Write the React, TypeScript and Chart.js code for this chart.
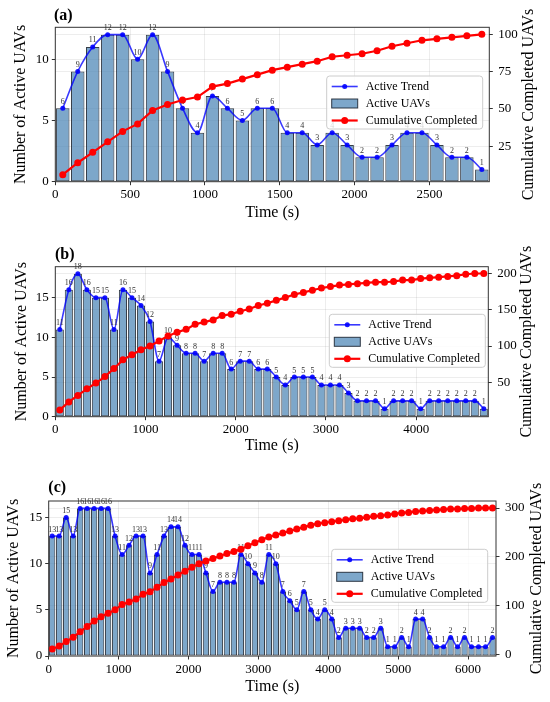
import React, { useEffect, useRef } from "react";
import { Chart, registerables } from "chart.js";

Chart.register(...registerables);

const FONT = "'Liberation Serif', 'Times New Roman', Times, serif";

// ---------- Panel (a) ----------
const timeA = [50, 150, 250, 350, 450, 550, 650, 750, 850, 950, 1050, 1150, 1250, 1350, 1450, 1550, 1650, 1750, 1850, 1950, 2050, 2150, 2250, 2350, 2450, 2550, 2650, 2750, 2850];
const activeA = [6, 9, 11, 12, 12, 10, 12, 9, 6, 4, 7, 6, 5, 6, 6, 4, 4, 3, 4, 3, 2, 2, 3, 4, 4, 3, 2, 2, 1];
const cumulativeA = [6, 14, 21, 28, 35, 40, 49, 53, 56, 58, 65, 67, 70, 73, 76, 78, 80, 82, 85, 86, 87, 89, 92, 94, 96, 97, 98, 99, 100];
const xTicksA = [0, 500, 1000, 1500, 2000, 2500];
const leftTicksA = [0, 5, 10];
const rightTicksA = [25, 50, 75, 100];
const xLimitA = 2900;

// ---------- Panel (b) ----------
const timeB = [50, 150, 250, 350, 450, 550, 650, 750, 850, 950, 1050, 1150, 1250, 1350, 1450, 1550, 1650, 1750, 1850, 1950, 2050, 2150, 2250, 2350, 2450, 2550, 2650, 2750, 2850, 2950, 3050, 3150, 3250, 3350, 3450, 3550, 3650, 3750, 3850, 3950, 4050, 4150, 4250, 4350, 4450, 4550, 4650, 4750];
const activeB = [11, 16, 18, 16, 15, 15, 11, 16, 15, 14, 12, 7, 10, 9, 8, 8, 7, 8, 8, 6, 7, 7, 6, 6, 5, 4, 5, 5, 5, 4, 4, 4, 3, 2, 2, 2, 1, 2, 2, 2, 1, 2, 2, 2, 2, 2, 2, 1];
const cumulativeB = [12, 23, 32, 41, 49, 58, 69, 81, 88, 95, 100, 107, 114, 119, 123, 130, 133, 136, 142, 144, 148, 151, 156, 159, 163, 167, 171, 174, 177, 180, 182, 184, 185, 186, 187, 188, 188, 189, 191, 191, 193, 194, 195, 196, 197, 199, 200, 200];
const xTicksB = [0, 1000, 2000, 3000, 4000];
const leftTicksB = [0, 5, 10, 15];
const rightTicksB = [50, 100, 150, 200];
const xLimitB = 4800;

// ---------- Panel (c) ----------
const timeC = [50, 150, 250, 350, 450, 550, 650, 750, 850, 950, 1050, 1150, 1250, 1350, 1450, 1550, 1650, 1750, 1850, 1950, 2050, 2150, 2250, 2350, 2450, 2550, 2650, 2750, 2850, 2950, 3050, 3150, 3250, 3350, 3450, 3550, 3650, 3750, 3850, 3950, 4050, 4150, 4250, 4350, 4450, 4550, 4650, 4750, 4850, 4950, 5050, 5150, 5250, 5350, 5450, 5550, 5650, 5750, 5850, 5950, 6050, 6150, 6250, 6350];
const activeC = [13, 13, 15, 13, 16, 16, 16, 16, 16, 13, 11, 12, 13, 13, 9, 11, 13, 14, 14, 12, 11, 11, 9, 7, 8, 8, 8, 11, 10, 9, 8, 11, 10, 7, 6, 5, 7, 5, 4, 5, 4, 2, 3, 3, 3, 2, 2, 3, 1, 1, 2, 1, 4, 4, 2, 1, 1, 2, 1, 2, 1, 1, 1, 2];
const cumulativeC = [12, 18, 27, 36, 47, 58, 69, 78, 85, 92, 103, 108, 114, 124, 129, 138, 148, 155, 163, 171, 179, 186, 192, 197, 202, 207, 211, 216, 223, 229, 235, 241, 245, 249, 253, 257, 261, 265, 268, 270, 272, 274, 276, 278, 279, 281, 283, 284, 286, 288, 290, 291, 293, 294, 295, 296, 297, 298, 298, 299, 299, 300, 300, 300];
const xTicksC = [0, 1000, 2000, 3000, 4000, 5000, 6000];
const leftTicksC = [0, 5, 10, 15];
const rightTicksC = [0, 100, 200, 300];
const xLimitC = 6400;

const BAR_FILL = "rgba(70,130,180,0.7)";
const BAR_EDGE = "rgba(20,28,40,0.85)";
const TREND_LINE = "rgba(0,0,255,0.78)";
const TREND_POINT = "rgba(0,0,255,0.9)";
const CUM_COLOR = "#ff0000";

type Panel = {
  tag: string;
  time: number[];
  active: number[];
  cumulative: number[];
  xTicks: number[];
  leftTicks: number[];
  rightTicks: number[];
  xLimit: number;
  top: number;
  height: number;
  area: { left: number; right: number; top: number; bottom: number };
  leftTitleX: number;
  xTitleY: number;
  rightTitleX: number;
  tagPos: { x: number; y: number };
  legendPos: { x: number; y: number };
};

const panels: Panel[] = [
  {
    tag: "(a)", time: timeA, active: activeA, cumulative: cumulativeA,
    xTicks: xTicksA, leftTicks: leftTicksA, rightTicks: rightTicksA, xLimit: xLimitA,
    top: 0, height: 230,
    area: { left: 55.3, right: 489.3, top: 27.3, bottom: 181.7 },
    leftTitleX: 20.3, xTitleY: 212.7, rightTitleX: 529,
    tagPos: { x: 54, y: 20 }, legendPos: { x: 326.7, y: 76 },
  },
  {
    tag: "(b)", time: timeB, active: activeB, cumulative: cumulativeB,
    xTicks: xTicksB, leftTicks: leftTicksB, rightTicks: rightTicksB, xLimit: xLimitB,
    top: 230, height: 230,
    area: { left: 55.3, right: 488.3, top: 36.7, bottom: 186.7 },
    leftTitleX: 21.7, xTitleY: 216, rightTitleX: 526.7,
    tagPos: { x: 55, y: 29 }, legendPos: { x: 329.3, y: 84.3 },
  },
  {
    tag: "(c)", time: timeC, active: activeC, cumulative: cumulativeC,
    xTicks: xTicksC, leftTicks: leftTicksC, rightTicks: rightTicksC, xLimit: xLimitC,
    top: 460, height: 242,
    area: { left: 48.7, right: 496, top: 41, bottom: 196 },
    leftTitleX: 13.3, xTitleY: 226.7, rightTitleX: 537,
    tagPos: { x: 48.3, y: 32 }, legendPos: { x: 331.7, y: 89.3 },
  },
];

function roundRectPath(ctx: CanvasRenderingContext2D, x: number, y: number, w: number, h: number, r: number) {
  ctx.beginPath();
  ctx.moveTo(x + r, y);
  ctx.lineTo(x + w - r, y);
  ctx.arcTo(x + w, y, x + w, y + r, r);
  ctx.lineTo(x + w, y + h - r);
  ctx.arcTo(x + w, y + h, x + w - r, y + h, r);
  ctx.lineTo(x + r, y + h);
  ctx.arcTo(x, y + h, x, y + h - r, r);
  ctx.lineTo(x, y + r);
  ctx.arcTo(x, y, x + r, y, r);
  ctx.closePath();
}

function makePlugin(p: Panel) {
  return {
    id: "decor" + p.tag.replace(/[()]/g, ""),
    afterDatasetDraw(chart: any, args: any) {
      if (args.index !== 1) return;
      const ctx: CanvasRenderingContext2D = chart.ctx;
      const meta = chart.getDatasetMeta(1);
      ctx.save();
      ctx.font = `8px ${FONT}`;
      ctx.fillStyle = "#333";
      ctx.textAlign = "center";
      ctx.textBaseline = "alphabetic";
      meta.data.forEach((el: any, i: number) => {
        ctx.fillText(String(p.active[i]), el.x, el.y - 4.5);
      });
      ctx.restore();
    },
    afterDatasetsDraw(chart: any) {
      const ctx: CanvasRenderingContext2D = chart.ctx;
      const a = chart.chartArea;
      ctx.save();
      ctx.strokeStyle = "#333";
      ctx.lineWidth = 1;
      ctx.strokeRect(a.left, a.top, a.right - a.left, a.bottom - a.top);
      ctx.restore();
    },
    afterDraw(chart: any) {
      const ctx: CanvasRenderingContext2D = chart.ctx;
      const a = chart.chartArea;
      ctx.save();
      // panel tag
      ctx.font = `bold 16px ${FONT}`;
      ctx.fillStyle = "#000";
      ctx.textAlign = "left";
      ctx.textBaseline = "alphabetic";
      ctx.fillText(p.tag, p.tagPos.x, p.tagPos.y);
      // right axis title
      ctx.save();
      ctx.translate(p.rightTitleX, (a.top + a.bottom) / 2);
      ctx.rotate(-Math.PI / 2);
      ctx.font = `16px ${FONT}`;
      ctx.textAlign = "center";
      ctx.textBaseline = "middle";
      ctx.fillText("Cumulative Completed UAVs", 0, 0);
      ctx.restore();
      // legend
      const lx = p.legendPos.x, ly = p.legendPos.y, lw = 156, lh = 53;
      roundRectPath(ctx, lx, ly, lw, lh, 3);
      ctx.fillStyle = "rgba(255,255,255,0.8)";
      ctx.fill();
      ctx.strokeStyle = "#cccccc";
      ctx.lineWidth = 1;
      ctx.stroke();
      const h0 = lx + 5, h1 = lx + 31, hm = (h0 + h1) / 2;
      const rows = [ly + 10.5, ly + 27.5, ly + 44.5];
      // Active Trend
      ctx.strokeStyle = TREND_LINE;
      ctx.lineWidth = 1.6;
      ctx.beginPath();
      ctx.moveTo(h0, rows[0]);
      ctx.lineTo(h1, rows[0]);
      ctx.stroke();
      ctx.fillStyle = TREND_POINT;
      ctx.beginPath();
      ctx.arc(hm, rows[0], 2.5, 0, Math.PI * 2);
      ctx.fill();
      // Active UAVs
      ctx.fillStyle = BAR_FILL;
      ctx.fillRect(h0, rows[1] - 4.5, h1 - h0, 9);
      ctx.strokeStyle = BAR_EDGE;
      ctx.lineWidth = 1;
      ctx.strokeRect(h0, rows[1] - 4.5, h1 - h0, 9);
      // Cumulative Completed
      ctx.strokeStyle = CUM_COLOR;
      ctx.lineWidth = 2.2;
      ctx.beginPath();
      ctx.moveTo(h0, rows[2]);
      ctx.lineTo(h1, rows[2]);
      ctx.stroke();
      ctx.fillStyle = CUM_COLOR;
      ctx.beginPath();
      ctx.arc(hm, rows[2], 3.5, 0, Math.PI * 2);
      ctx.fill();
      ctx.font = `12px ${FONT}`;
      ctx.fillStyle = "#000";
      ctx.textAlign = "left";
      ctx.textBaseline = "middle";
      ctx.fillText("Active Trend", lx + 39, rows[0]);
      ctx.fillText("Active UAVs", lx + 39, rows[1]);
      ctx.fillText("Cumulative Completed", lx + 39, rows[2]);
      ctx.restore();
    },
  };
}

function PanelChart({ p }: { p: Panel }) {
  const ref = useRef<HTMLCanvasElement | null>(null);
  useEffect(() => {
    if (!ref.current) return;
    const cMin = Math.min(...p.cumulative);
    const cMax = Math.max(...p.cumulative);
    const span = cMax - cMin;
    const yMax = Math.max(...p.active) * 1.05;
    const tickFont = { size: 13, family: FONT };
    const titleFont = { size: 16, family: FONT };
    const gridCommon = {
      color: "rgba(0,0,0,0.09)",
      lineWidth: 0.8,
      tickLength: 3.5,
      tickColor: "#333",
      tickWidth: 1,
    };
    const barData = p.time.map((t, i) => ({ x: t, y: p.active[i] }));
    const cumData = p.time.map((t, i) => ({ x: t, y: p.cumulative[i] }));
    const chart = new Chart(ref.current, {
      type: "bar",
      data: {
        datasets: [
          {
            type: "bar",
            label: "Active UAVs",
            data: barData,
            backgroundColor: BAR_FILL,
            borderColor: BAR_EDGE,
            borderWidth: 1,
            borderSkipped: false,
            barPercentage: 0.9,
            categoryPercentage: 1.0,
            yAxisID: "y",
            order: 3,
          } as any,
          {
            type: "line",
            label: "Active Trend",
            data: barData,
            borderColor: TREND_LINE,
            borderWidth: 1.6,
            pointRadius: 2.5,
            pointBackgroundColor: TREND_POINT,
            pointBorderWidth: 0,
            cubicInterpolationMode: "monotone",
            yAxisID: "y",
            order: 2,
            clip: false,
          } as any,
          {
            type: "line",
            label: "Cumulative Completed",
            data: cumData,
            borderColor: CUM_COLOR,
            borderWidth: 2.2,
            pointRadius: 3.5,
            pointBackgroundColor: CUM_COLOR,
            pointBorderWidth: 0,
            tension: 0,
            yAxisID: "y2",
            order: 1,
            clip: false,
          } as any,
        ],
      },
      options: {
        responsive: false,
        maintainAspectRatio: false,
        animation: false,
        events: [],
        layout: { padding: { top: p.area.top, left: 0, right: 0, bottom: 0 } },
        plugins: { legend: { display: false }, tooltip: { enabled: false } },
        scales: {
          x: {
            type: "linear",
            min: 0,
            max: p.xLimit,
            offset: false,
            afterBuildTicks: (s: any) => { s.ticks = p.xTicks.map((v) => ({ value: v })); },
            afterFit: (s: any) => { s.height = p.height - p.area.bottom; },
            grid: { ...gridCommon, offset: false },
            border: { display: false },
            ticks: { color: "#000", font: tickFont, padding: 2, maxRotation: 0, autoSkip: false, callback: (v: any) => String(v) },
            title: {
              display: true, text: "Time (s)", color: "#000", font: titleFont,
              padding: { top: 0, bottom: (p.height - p.xTitleY) - 9.6 },
            },
          },
          y: {
            type: "linear",
            position: "left",
            min: 0,
            max: yMax,
            afterBuildTicks: (s: any) => { s.ticks = p.leftTicks.map((v) => ({ value: v })); },
            afterFit: (s: any) => { s.width = p.area.left; },
            grid: gridCommon,
            border: { display: false },
            ticks: { color: "#000", font: tickFont, padding: 3, callback: (v: any) => String(v) },
            title: {
              display: true, text: "Number of Active UAVs", color: "#000", font: titleFont,
              padding: { top: p.leftTitleX - 9.6, bottom: 0 },
            },
          },
          y2: {
            type: "linear",
            position: "right",
            min: cMin - 0.05 * span,
            max: cMax + 0.05 * span,
            afterBuildTicks: (s: any) => { s.ticks = p.rightTicks.map((v) => ({ value: v })); },
            afterFit: (s: any) => { s.width = 550 - p.area.right; },
            grid: gridCommon,
            border: { display: false },
            ticks: { color: "#000", font: tickFont, padding: 5.5, callback: (v: any) => String(v) },
            title: { display: false },
          },
        },
      } as any,
      plugins: [makePlugin(p)],
    });
    return () => chart.destroy();
  }, [p]);
  return (
    <canvas
      ref={ref}
      width={550}
      height={p.height}
      style={{ position: "absolute", left: 0, top: p.top, width: 550, height: p.height }}
    />
  );
}

export default function App() {
  return (
    <div style={{ position: "fixed", left: 0, top: 0, width: 550, height: 702, background: "#fff", overflow: "hidden" }}>
      {panels.map((p) => (
        <PanelChart key={p.tag} p={p} />
      ))}
    </div>
  );
}
